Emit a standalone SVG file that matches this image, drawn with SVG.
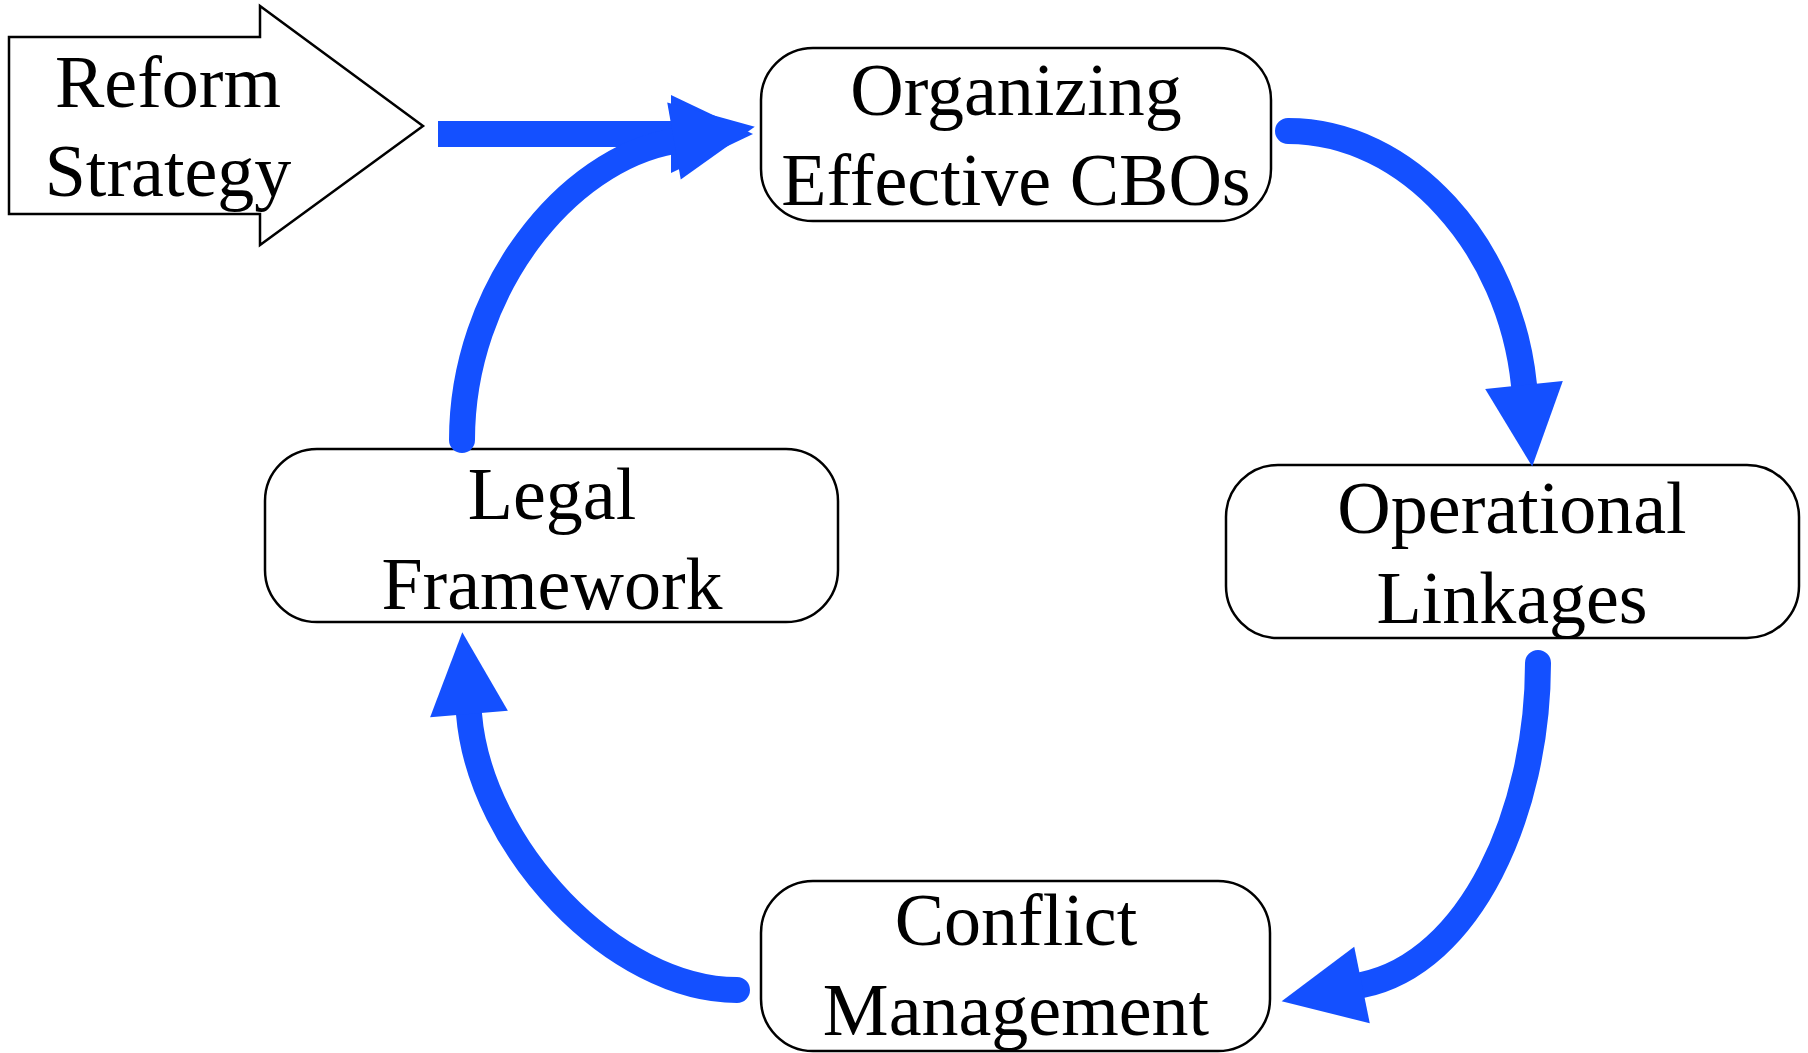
<svg xmlns="http://www.w3.org/2000/svg" width="1808" height="1053" viewBox="0 0 1808 1053">
<style>
.box{fill:#fff;stroke:#000;stroke-width:2.5}
.lbl{font-family:"Liberation Serif","Times New Roman",serif;font-size:74px;fill:#000;text-anchor:middle}
.con{fill:none;stroke:#1450FF;stroke-width:26;stroke-linecap:round}
</style>
<defs>
<marker id="ah" markerUnits="userSpaceOnUse" markerWidth="100" markerHeight="100" viewBox="0 -50 100 100" refX="0" refY="0" orient="auto" overflow="visible">
<path d="M0,-39 L82,0 L0,39 Z" fill="#1450FF"/>
</marker>
</defs>
<rect width="1808" height="1053" fill="#fff"/>
<g id="reform">
<polygon points="9,37 260,37 260,6 423,126 260,245 260,214 9,214" fill="#fff" stroke="#000" stroke-width="2.5"/>
<text class="lbl" x="168" y="107">Reform</text>
<text class="lbl" x="168" y="196">Strategy</text>
</g>
<g id="organizing">
<rect class="box" x="761" y="48" width="510" height="173" rx="52"/>
<text class="lbl" x="1016" y="115">Organizing</text>
<text class="lbl" x="1016" y="205">Effective CBOs</text>
</g>
<g id="operational">
<rect class="box" x="1226" y="465" width="573" height="173" rx="52"/>
<text class="lbl" x="1512" y="533">Operational</text>
<text class="lbl" x="1512" y="623">Linkages</text>
</g>
<g id="conflict">
<rect class="box" x="761" y="881" width="509" height="170" rx="52"/>
<text class="lbl" x="1016" y="945">Conflict</text>
<text class="lbl" x="1016" y="1035">Management</text>
</g>
<g id="legal">
<rect class="box" x="265" y="449" width="573" height="173" rx="52"/>
<text class="lbl" x="552" y="519">Legal</text>
<text class="lbl" x="552" y="609">Framework</text>
</g>
<g id="connectors">
<path class="con" style="stroke-linecap:butt" d="M438,134 H671" marker-end="url(#ah)"/>
<path class="con" d="M462,440 C462,290 566,160 674,141" marker-end="url(#ah)"/>
<path class="con" d="M1288,131 C1408,131 1510,246 1524,385" marker-end="url(#ah)"/>
<path class="con" d="M1538,663 C1538,813 1470,963 1362,985" marker-end="url(#ah)"/>
<path class="con" d="M737,990 C615,990 480,848 469,714" marker-end="url(#ah)"/>
</g>
</svg>
